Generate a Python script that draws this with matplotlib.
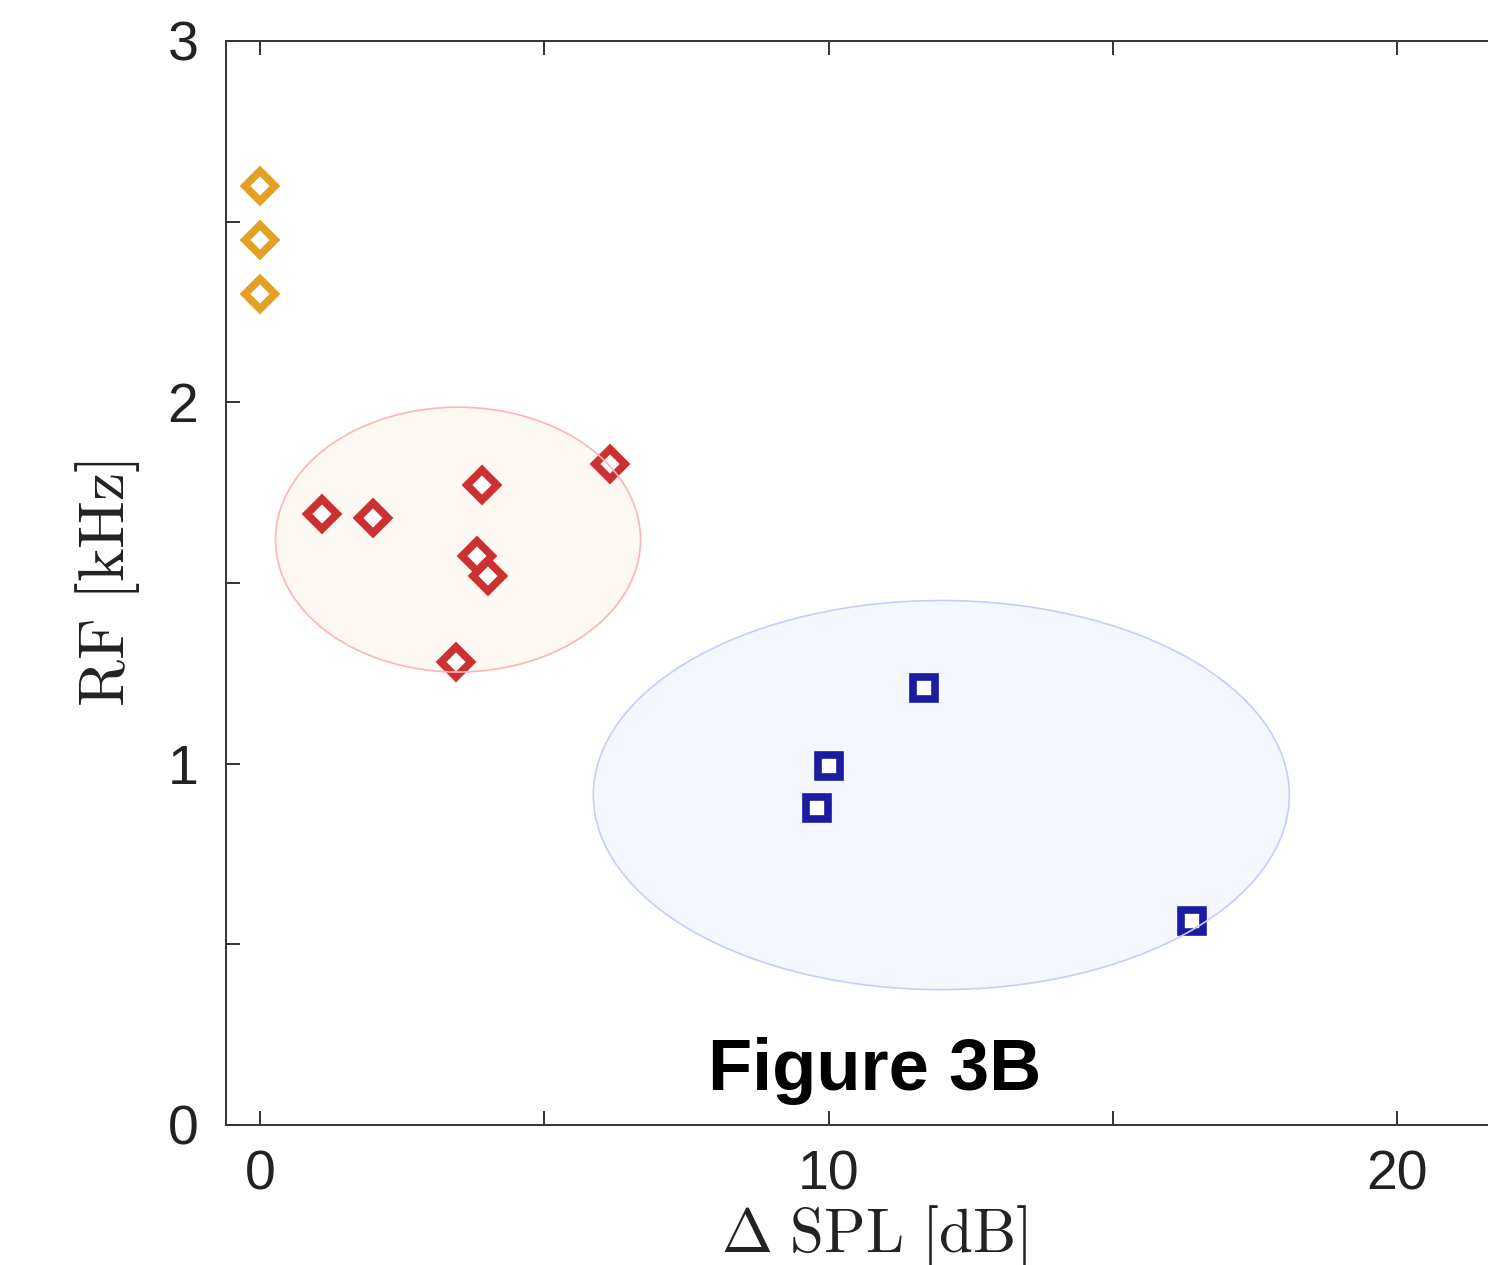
import numpy as np
import matplotlib
matplotlib.use("Agg")
from matplotlib import pyplot as plt
from matplotlib.patches import Ellipse

plt.rcParams['mathtext.fontset'] = 'cm'

# data
spl_orange = [0.0, 0.0, 0.0]
rf_orange = [2.60, 2.45, 2.30]

spl_red = [1.09, 1.99, 3.90, 6.16, 3.82, 4.01, 3.45]
rf_red = [1.69, 1.68, 1.77, 1.83, 1.575, 1.52, 1.28]

spl_blue = [11.68, 10.0, 9.80, 16.38]
rf_blue = [1.21, 0.994, 0.877, 0.565]

# cluster ellipses: centre x, centre y, width, height
ell_red = [3.48, 1.62, 6.42, 0.733]
ell_blue = [11.98, 0.913, 12.24, 1.077]

fig = plt.figure(figsize=(14.88, 12.65), dpi=100)
ax = fig.add_axes([0.1519, 0.1107, 0.898, 0.8569])

for e, fc, ec in [(ell_red, '#fdf8f2', '#ffb4b4'), (ell_blue, '#f4f8fe', '#c6ccff')]:
    ax.add_patch(Ellipse((e[0], e[1]), e[2], e[3], facecolor=fc, edgecolor='none', zorder=1))
    ax.add_patch(Ellipse((e[0], e[1]), e[2], e[3], facecolor='none', edgecolor=ec, lw=1.2, zorder=4))

ax.plot(spl_orange, rf_orange, 'D', ms=15, mfc='white', mec='#e3a124', mew=5.5, zorder=3)
ax.plot(spl_red, rf_red, 'D', ms=15, mfc='white', mec='#cc3030', mew=5.5, zorder=3)
ax.plot(spl_blue, rf_blue, 's', ms=16, mfc='white', mec='#1c1ca0', mew=5.5, zorder=3)

ax.set_xlim(-0.6, 22.9)
ax.set_ylim(0, 3)
ax.set_xticks([0, 10, 20])
ax.set_xticks([5, 15], minor=True)
ax.set_yticks([0, 1, 2, 3])
ax.set_yticks([0.5, 1.5, 2.5], minor=True)
ax.tick_params(which='both', direction='in', length=10, width=1.4, color='#333333',
               top=True, right=False)
ax.tick_params(axis='both', labelsize=40, labelcolor='#222222')
ax.tick_params(axis='y', pad=20)
ax.tick_params(axis='x', pad=18)
for lab in ax.get_xticklabels() + ax.get_yticklabels():
    lab.set_family('Liberation Sans')

for s in ['left', 'bottom', 'top']:
    ax.spines[s].set_linewidth(1.4)
    ax.spines[s].set_color('#333333')
ax.spines['right'].set_visible(False)

ax.set_xlabel(r'$\Delta\ \mathrm{SPL}\ [\mathrm{dB}]$', fontsize=44, color='#222222')
ax.xaxis.set_label_coords(0.485, -0.072)
ax.set_ylabel(r'$\mathrm{RF}\ [\mathrm{kHz}]$', fontsize=46, color='#222222', labelpad=18)

ax.text(10.8, 0.097, 'Figure 3B', fontsize=52, fontweight='bold', family='Liberation Sans',
        ha='center', va='baseline', color='black')

fig.savefig('out.png', dpi=100)
